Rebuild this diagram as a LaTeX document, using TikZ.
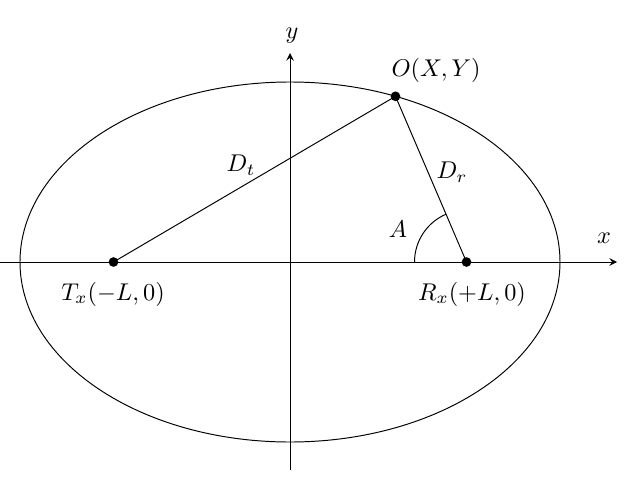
\documentclass[tikz,border=0pt]{standalone}
\usepackage{amsmath}
\usetikzlibrary{arrows,calc}
\tikzset{dot/.style={circle,fill=black,inner sep=0pt,minimum size=4pt}}

\begin{document}
\begin{tikzpicture}[x=1.45cm,y=1.45cm]
    \useasboundingbox (-2.9,-2.18) rectangle (3.5,2.62);
    % Axes
    \coordinate (xs) at (-2.9,0);
    \coordinate (xe) at (3.27,0);
    \coordinate (ys) at (0,-2.08);
    \coordinate (ye) at (0,2.09);
    \draw[-stealth] (xs) -- (xe);
    \draw[-stealth] (ys) -- (ye);
    \node (xl) at (3.14,0.24) {$x$};
    \node (yl) at (0.02,2.26) {$y$};

    % Ellipse
    \draw (0,0) ellipse (2.7 and 1.8);

    % Points
    \node[dot] (T) at (-1.765,0) {};
    \node[dot] (R) at (1.765,0) {};
    \node[dot] (O) at ({2.7*cos(67)},{1.8*sin(67)}) {};
    \node (Tl) at (-1.77,-0.32) {$T_x(-L,0)$};
    \node (Rl) at (1.82,-0.32) {$R_x(+L,0)$};
    \node (Ol) at (1.46,1.92) {$O(X,Y)$};

    % Distances
    \draw (T.center) -- (O.center);
    \draw (R.center) -- (O.center);
    \node (Dt) at (-0.49,0.97) {$D_t$};
    \node (Dr) at (1.62,0.90) {$D_r$};

    % Angle
    \draw ($(R.center)+(180:0.52)$) arc (180:113.2:0.52);
    \node (A) at (1.08,0.33) {$A$};
\end{tikzpicture}
\end{document}
